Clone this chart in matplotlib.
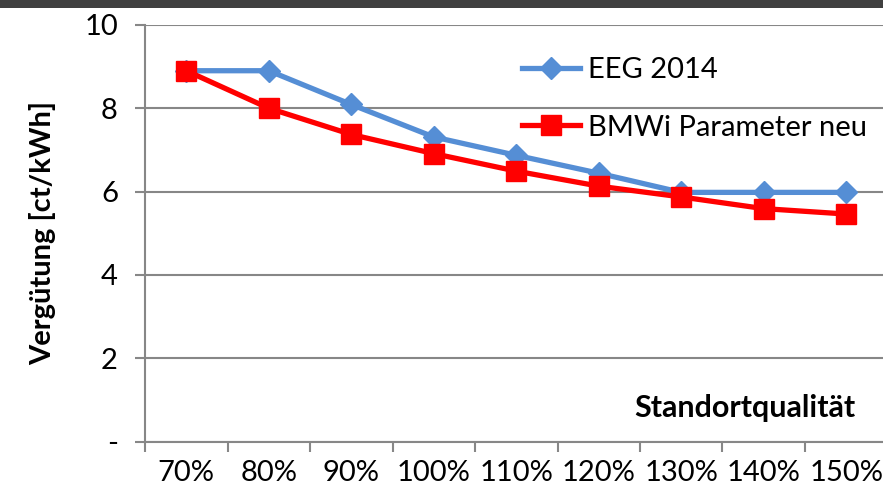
import matplotlib
matplotlib.use("Agg")
import matplotlib.pyplot as plt
from matplotlib.patches import Rectangle

categories = ["70%", "80%", "90%", "100%", "110%", "120%", "130%", "140%", "150%"]
eeg_2014 = [8.90, 8.90, 8.09, 7.31, 6.87, 6.44, 5.98, 5.98, 5.98]
bmwi_neu = [8.90, 8.00, 7.37, 6.91, 6.49, 6.13, 5.87, 5.59, 5.46]
y_ticks = [0, 2, 4, 6, 8, 10]
y_labels = ["-", "2", "4", "6", "8", "10"]

plt.rcParams["font.family"] = ["Lato", "DejaVu Sans"]

W, H = 883, 493
fig = plt.figure(figsize=(W / 100, H / 100), dpi=100)

# dark header strip
fig.patches.append(Rectangle((0, 1 - 8 / H), 1, 8 / H, transform=fig.transFigure,
                             facecolor="#404040", edgecolor="none", zorder=0))

left, right, bottom, top = 145, 887.5, 441.5, 24.9
ax = fig.add_axes([left / W, 1 - bottom / H, (right - left) / W, (bottom - top) / H])

x = list(range(len(categories)))
grey = "#878787"
blue = "#558ED5"
red = "#FF0000"
fs = 21

ax.plot(x, eeg_2014, color=blue, lw=3.8, marker="D", ms=11, mec=blue, mfc=blue,
        label="EEG 2014", zorder=3, clip_on=False)
ax.plot(x, bmwi_neu, color=red, lw=3.8, marker="s", ms=14, mec=red, mfc=red,
        label="BMWi Parameter neu", zorder=4, clip_on=False)

ax.set_xlim(-0.5, len(categories) - 0.5)
ax.set_ylim(0, 10)

ax.set_xticks(x)
ax.set_xticklabels(categories, fontsize=fs)
ax.set_xticks([i - 0.5 for i in range(len(categories) + 1)], minor=True)
ax.tick_params(axis="x", which="major", length=0, pad=13)
ax.tick_params(axis="x", which="minor", length=7.5, width=1.5, color=grey, direction="out")

ax.set_yticks(y_ticks)
ax.set_yticklabels(y_labels, fontsize=fs)
ax.tick_params(axis="y", length=7.5, width=1.5, color=grey, pad=12)

ax.yaxis.grid(True, color=grey, lw=1.5)
ax.set_axisbelow(True)
for s in ("top", "right"):
    ax.spines[s].set_visible(False)
for s in ("left", "bottom"):
    ax.spines[s].set_color(grey)
    ax.spines[s].set_linewidth(1.5)

ax.set_ylabel("Vergütung [ct/kWh]", fontsize=fs, fontweight="bold", labelpad=20)
ax.text((855 - left) / (right - left), (bottom - 408) / (bottom - top), "Standortqualität",
        transform=ax.transAxes, ha="right", va="center", fontsize=22, fontweight="bold")

leg = ax.legend(loc="upper left", bbox_to_anchor=((522 - left) / (right - left), (bottom - 57) / (bottom - top)),
                frameon=False, fontsize=fs, handlelength=2.0, handletextpad=0.25,
                labelspacing=1.08, borderpad=0, borderaxespad=0)

fig.savefig("out.png", dpi=100)
